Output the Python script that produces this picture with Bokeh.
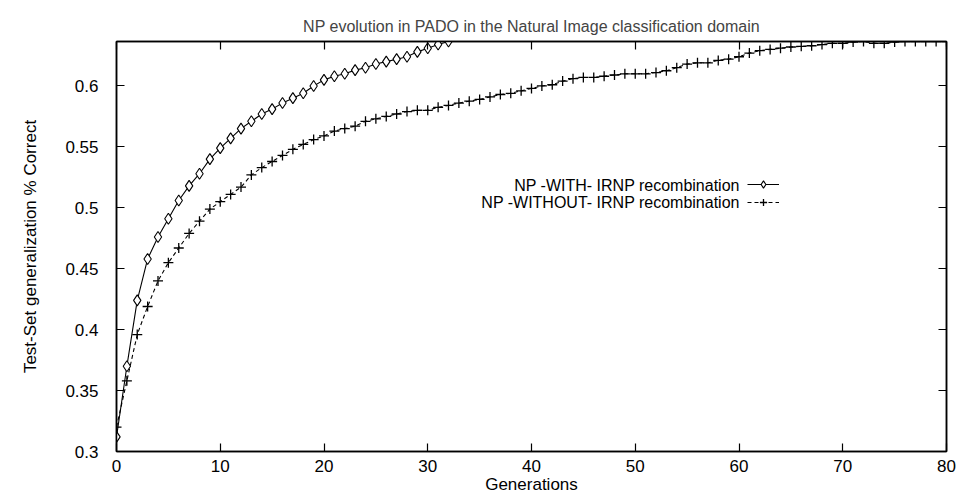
from bokeh.plotting import figure
from bokeh.models import (Range1d, LinearAxis, FixedTicker, CustomJSTickFormatter,
                          Legend, LegendItem, Label)
from bokeh.embed import file_html
from bokeh.resources import INLINE

# ---- data ----
gen_with = list(range(0, 33))
acc_with = [0.312, 0.370, 0.424, 0.458, 0.476, 0.491, 0.506, 0.518, 0.528, 0.540,
            0.549, 0.557, 0.565, 0.571, 0.577, 0.581, 0.586, 0.590, 0.594, 0.600,
            0.605, 0.608, 0.610, 0.613, 0.615, 0.618, 0.620, 0.622, 0.624, 0.628,
            0.631, 0.634, 0.6365]

gen_without = list(range(0, 81))
acc_without = [0.320, 0.358, 0.396, 0.419, 0.440, 0.455, 0.467, 0.479, 0.489, 0.499,
               0.505, 0.511, 0.517, 0.527, 0.533, 0.538, 0.543, 0.548, 0.552, 0.556,
               0.559, 0.563, 0.565, 0.567, 0.571, 0.573, 0.575, 0.577, 0.579, 0.580,
               0.580, 0.5825, 0.584, 0.586, 0.5875, 0.589, 0.591, 0.593, 0.594, 0.596,
               0.598, 0.600, 0.601, 0.604, 0.606, 0.607, 0.607, 0.608, 0.609, 0.610,
               0.610, 0.610, 0.611, 0.6125, 0.615, 0.618, 0.619, 0.619, 0.621, 0.622,
               0.624, 0.627, 0.629, 0.630, 0.631, 0.632, 0.6325, 0.633, 0.634, 0.635,
               0.635, 0.636, 0.6365, 0.635, 0.635, 0.636, 0.6365, 0.6365, 0.6365, 0.6365,
               0.6365]

x_ticks = [0, 10, 20, 30, 40, 50, 60, 70, 80]
y_ticks = [0.3, 0.35, 0.4, 0.45, 0.5, 0.55, 0.6]
y_tick_labels = ["0.3", "0.35", "0.4", "0.45", "0.5", "0.55", "0.6"]

title_text = "NP evolution in PADO in the Natural Image classification domain"
x_label = "Generations"
y_label = "Test-Set generalization % Correct"
series_labels = ["NP -WITH- IRNP recombination", "NP -WITHOUT- IRNP recombination"]

FONT = "Liberation Sans"
FS = "16px"
FS_AX = "17px"

p = figure(width=963, height=496, output_backend="svg", toolbar_location=None,
           x_range=Range1d(0, 80), y_range=Range1d(0.3, 0.6365),
           min_border_left=116, min_border_right=17, min_border_top=41, min_border_bottom=44)

p.title.text = title_text
p.title.align = "center"
p.title.text_font = FONT
p.title.text_font_size = FS
p.title.text_font_style = "normal"
p.title.standoff = 14

p.grid.visible = False
p.outline_line_color = "black"
p.outline_line_width = 1.5
p.background_fill_color = "white"
p.border_fill_color = "white"

def style_axis(ax):
    ax.major_tick_in = 8
    ax.major_tick_out = 0
    ax.minor_tick_line_color = None
    ax.axis_line_color = "black"
    ax.axis_line_width = 1.5
    ax.major_tick_line_color = "black"
    ax.major_tick_line_width = 1.2
    ax.major_label_text_font = FONT
    ax.major_label_text_font_size = FS_AX
    ax.major_label_text_color = "black"
    ax.axis_label_text_font = FONT
    ax.axis_label_text_font_size = FS_AX
    ax.axis_label_text_font_style = "normal"
    ax.axis_label_text_color = "black"

xa = p.xaxis[0]
style_axis(xa)
xa.ticker = FixedTicker(ticks=x_ticks)
xa.axis_label = x_label
xa.major_label_standoff = 8
xa.axis_label_standoff = 0

ya = p.yaxis[0]
style_axis(ya)
ya.ticker = FixedTicker(ticks=y_ticks)
ya.major_label_overrides = {t: s for t, s in zip(y_ticks, y_tick_labels)}
ya.axis_label = y_label
ya.major_label_standoff = 18
ya.axis_label_standoff = 22

blank = CustomJSTickFormatter(code="return ''")
top = LinearAxis(ticker=FixedTicker(ticks=x_ticks), formatter=blank)
style_axis(top)
top.major_label_standoff = 0
top.major_label_text_font_size = "0px"
p.add_layout(top, "above")

right = LinearAxis(ticker=FixedTicker(ticks=y_ticks), formatter=blank)
style_axis(right)
right.major_label_standoff = 0
right.major_label_text_font_size = "0px"
p.add_layout(right, "right")

# ---- series ----
l1 = p.line(gen_with, acc_with, line_color="black", line_width=1.1)
s1 = p.scatter(gen_with, acc_with, marker="diamond", size=11, fill_color="white",
               line_color="black", line_width=1.1)
l2 = p.line(gen_without, acc_without, line_color="black", line_width=1.1, line_dash="4 3")
s2 = p.scatter(gen_without, acc_without, marker="cross", size=10,
               line_color="black", line_width=1.3)

legend = Legend(items=[LegendItem(label="", renderers=[l1, s1]),
                       LegendItem(label="", renderers=[l2, s2])],
                location=(631, 240), glyph_width=32, glyph_height=18,
                label_width=0, label_height=18, label_standoff=0, spacing=0,
                padding=0, margin=0, border_line_color=None,
                background_fill_alpha=0)
p.add_layout(legend, "center")

for txt, yv in zip(series_labels, [0.518, 0.504]):
    p.add_layout(Label(x=60.1, y=yv, text=txt, text_align="right", text_baseline="middle",
                       text_font=FONT, text_font_size=FS, text_color="black"))

open("out.html", "w").write(file_html(p, INLINE))
